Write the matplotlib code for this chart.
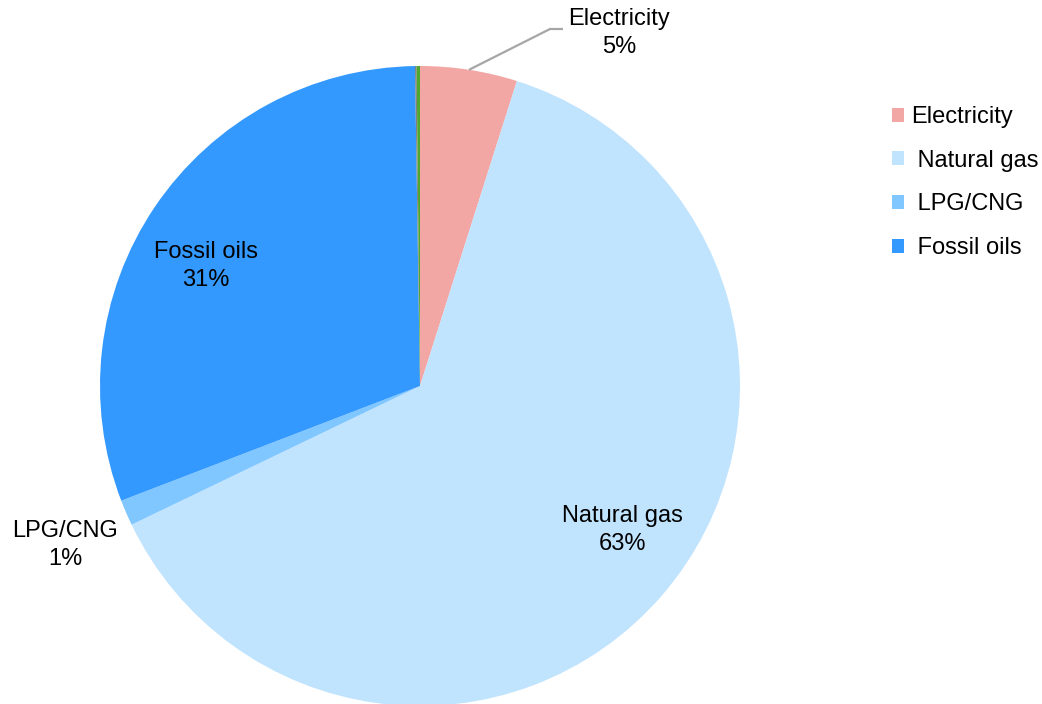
import numpy as np
import matplotlib.pyplot as plt

# Energy mix by source (share, %)
sources = ["Electricity", "Natural gas", "LPG/CNG", "Fossil oils", "Other 1", "Other 2"]
shares = [4.9, 63.0, 1.3, 30.6, 0.08, 0.17]
pct_labels = ["5%", "63%", "1%", "31%"]
colors = ["#F2A7A5", "#C0E3FE", "#80C6FF", "#3399FF", "#7F7F7F", "#4EA72E"]
legend_names = ["Electricity", " Natural gas", " LPG/CNG", " Fossil oils"]

plt.rcParams["font.family"] = ["Liberation Sans", "DejaVu Sans"]

W, H = 1042, 704
fig = plt.figure(figsize=(W / 100, H / 100), dpi=100)
ax = fig.add_axes([0, 0, 1, 1])
ax.set_xlim(0, W)
ax.set_ylim(0, H)
ax.set_aspect("equal")
ax.axis("off")

cx, cy, r = 420, H - 386, 320
wedges, _ = ax.pie(shares, colors=colors, startangle=90, counterclock=False,
                   center=(cx, cy), radius=r,
                   wedgeprops=dict(linewidth=0))
ax.set_xlim(0, W)
ax.set_ylim(0, H)

fs = 17

# slice labels (image pixel positions, y from top)
def put(x, y, txt):
    ax.text(x, H - y, txt, ha="center", va="center", fontsize=fs,
            color="black", linespacing=1.4)

put(622, 530, sources[1] + "\n" + pct_labels[1])
put(206, 266, sources[3] + "\n" + pct_labels[3])
put(65, 545, sources[2] + "\n" + pct_labels[2])
put(619, 33, sources[0] + "\n" + pct_labels[0])

# leader line for Electricity
w = wedges[0]
mid = np.deg2rad((w.theta1 + w.theta2) / 2)
x0, y0 = cx + r * np.cos(mid), cy + r * np.sin(mid)
ax.plot([x0, 550, 563], [y0, H - 29, H - 29], color="#A6A6A6", lw=1.6,
        solid_capstyle="butt")

leg = fig.legend(wedges[:4], legend_names, loc="upper left",
                 bbox_to_anchor=(892 / W, 1 - 106 / H), frameon=False,
                 fontsize=fs, handlelength=0.52, handleheight=0.52,
                 handletextpad=0.3, labelspacing=0.92, borderpad=0,
                 borderaxespad=0)

fig.savefig("out.png", dpi=100)
